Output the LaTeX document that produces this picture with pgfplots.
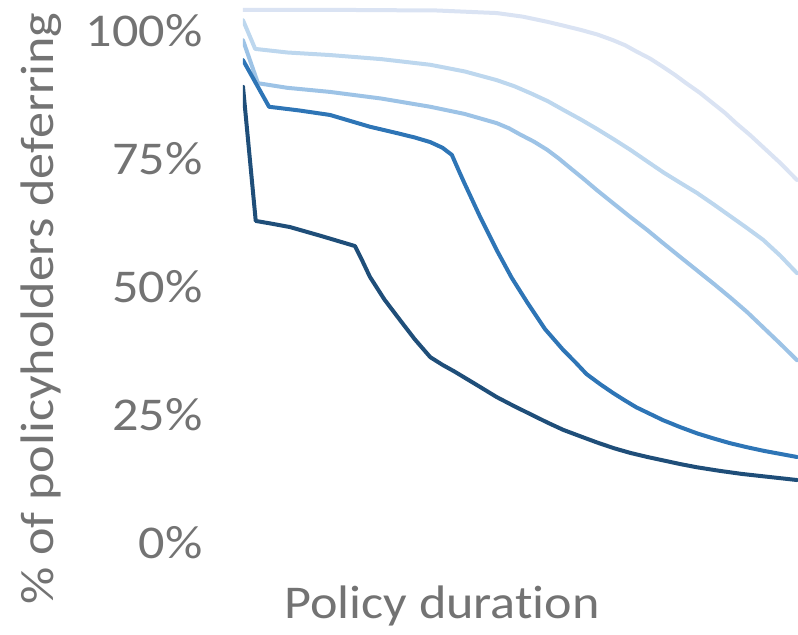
\documentclass[border=0pt]{standalone}
\usepackage{pgfplots}
\pgfplotsset{compat=1.18}
\usepackage{fontspec}
\setmainfont{Carlito}[FakeStretch=1.11, Ligatures=NoCommon]
\definecolor{txtgray}{RGB}{115,115,115}
\definecolor{c1}{HTML}{DAE3F3}
\definecolor{c2}{HTML}{BDD7EE}
\definecolor{c3}{HTML}{9DC3E6}
\definecolor{c4}{HTML}{2E75B6}
\definecolor{c5}{HTML}{1F4E79}
\begin{document}
\begin{tikzpicture}
\begin{axis}[
  name=ax,
  scale only axis,
  width=277.5pt, height=317pt,
  xmin=0, xmax=100.18,
  ymin=-17.77, ymax=106.05,
  axis line style={draw=none},
  xtick=\empty,
  ytick={0,25,50,75,100},
  yticklabels={0\%,25\%,50\%,75\%,100\%},
  major tick length=0pt,
  /pgf/number format/assume math mode=true,
  yticklabel style={anchor=east, inner sep=0pt, xshift=-20pt, font=\fontsize{23.5}{27}\selectfont, text=txtgray},
  xlabel={Policy duration},
  ylabel={\% of policyholders deferring},
  xlabel style={at={(axis description cs:0.3586,0.0252)}, anchor=base, inner sep=0pt, font=\fontsize{23.5}{27}\selectfont, text=txtgray},
  ylabel style={at={(axis description cs:-0.364,0.513)}, anchor=center, inner sep=0pt, font=\fontsize{23.5}{27}\selectfont, text=txtgray},
  every axis plot/.append style={line width=2pt, line join=round, line cap=round, mark=none},
]
\addplot[c1] coordinates {(0,104.1) (20,104.1) (35,104.0) (45.8,103.5) (50.5,102.8) (54.9,101.8) (58,101.0) (61,100.2) (64,99.3) (66.8,98.2) (69,97.2) (71,96.0) (73.5,94.6) (75.8,93.0) (78,91.4) (80,89.8) (82.5,87.9) (84.8,85.9) (87,84.0) (89,82.0) (91.5,79.7) (93.9,77.3) (97,74.2) (100,70.9)};
\addplot[c2] coordinates {(0,102.1) (2.2,96.5) (8,95.8) (15.7,95.3) (25,94.5) (33.8,93.4) (40,92.1) (45.8,90.4) (49,89.2) (52,87.8) (55,86.3) (57.8,84.6) (61,82.7) (64,80.8) (67,78.8) (69.9,76.8) (73,74.5) (76,72.3) (79,70.3) (81.9,68.4) (85,66.1) (88,63.8) (91,61.5) (93.9,59.2) (97,56.1) (100,52.7)};
\addplot[c3] coordinates {(0,98.2) (2.7,89.8) (8,88.9) (15.7,88.1) (25,86.8) (33.8,85.2) (40,83.8) (45.8,82.0) (48,81.0) (50,79.8) (52.5,78.4) (54.9,76.8) (57,75.1) (59,73.3) (61.5,71.1) (63.9,68.9) (67,66.2) (70,63.6) (73,61.1) (75.8,58.6) (79,55.8) (82,53.2) (85,50.6) (87.9,48.0) (91,45.1) (94,42.0) (97,38.9) (100,35.7)};
\addplot[c4] coordinates {(0,94.3) (4.7,85.2) (10,84.5) (15.7,83.6) (22.9,81.3) (28,80.0) (31,79.2) (33.8,78.3) (36,77.2) (37.7,75.8) (39,72.6) (40,70.2) (42.8,63.7) (45.8,57.2) (48.5,51.8) (51.3,47.0) (54.5,41.8) (57.8,37.7) (60,35.3) (62,33.0) (64.5,31.0) (66.8,29.3) (69,27.8) (71,26.5) (73.5,25.2) (75.8,24.0) (79,22.6) (82,21.4) (85,20.4) (87.9,19.5) (91,18.7) (94,18.0) (97,17.4) (100,16.8)};
\addplot[c5] coordinates {(0,89.1) (2.3,62.9) (5,62.4) (8.5,61.7) (14,60.0) (20.2,58.0) (21.5,55.2) (22.9,52.0) (25.5,47.6) (28.3,43.6) (31,39.8) (33.8,36.3) (36,34.8) (38,33.6) (42,31.0) (45.8,28.5) (49,26.7) (52,25.1) (55,23.5) (57.8,22.1) (61,20.8) (64,19.6) (67,18.5) (69.9,17.6) (73,16.8) (76,16.1) (79,15.4) (81.9,14.8) (86,14.1) (90,13.5) (95,12.9) (100,12.3)};
\end{axis}
\pgfresetboundingbox
\path[use as bounding box] ([xshift=-121.5pt]ax.south west) rectangle (ax.north east);
\end{tikzpicture}
\end{document}
